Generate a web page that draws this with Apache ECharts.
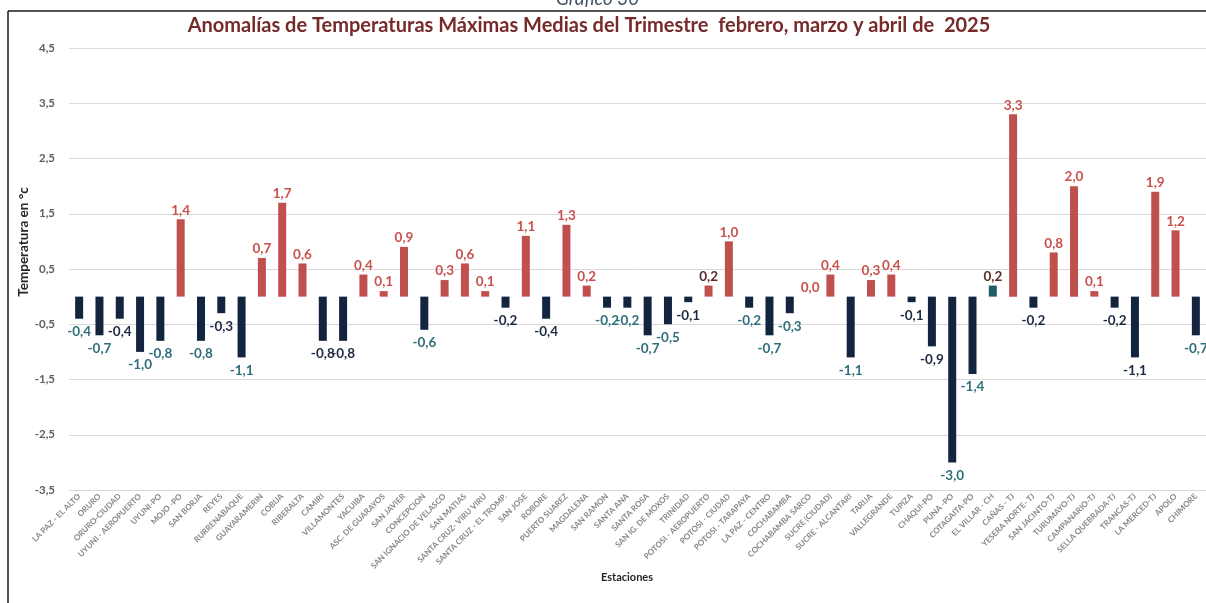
<!DOCTYPE html>
<html>
<head>
<meta charset="utf-8">
<title>Anomalías de Temperaturas Máximas Medias</title>
<script src="https://cdn.jsdelivr.net/npm/echarts@6/dist/echarts.min.js"></script>
<style>
  html, body { margin: 0; padding: 0; background: #ffffff; }
  #chart { width: 1206px; height: 603px; }
</style>
</head>
<body>
<div id="chart"></div>
<script>
// Estaciones meteorológicas
const stations = [
  'LA PAZ - EL ALTO', 'ORURO', 'ORURO-CIUDAD', 'UYUNI - AEROPUERTO', 'UYUNI-PO',
  'MOJO -PO', 'SAN BORJA', 'REYES', 'RURRENABAQUE', 'GUAYARAMERIN',
  'COBIJA', 'RIBERALTA', 'CAMIRI', 'VILLAMONTES', 'YACUIBA',
  'ASC. DE GUARAYOS', 'SAN JAVIER', 'CONCEPCION', 'SAN IGNACIO DE VELASCO', 'SAN MATIAS',
  'SANTA CRUZ- VIRU VIRU', 'SANTA CRUZ - EL TROMP.', 'SAN JOSE', 'ROBORE', 'PUERTO SUAREZ',
  'MAGDALENA', 'SAN RAMON', 'SANTA ANA', 'SANTA ROSA', 'SAN IG. DE MOXOS',
  'TRINIDAD', 'POTOSI - AEROPUERTO', 'POTOSI - CIUDAD', 'POTOSI - TARAPAYA', 'LA PAZ - CENTRO',
  'COCHABAMBA', 'COCHABAMBA SARCO', 'SUCRE (CIUDAD)', 'SUCRE - ALCANTARI', 'TARIJA',
  'VALLEGRANDE', 'TUPIZA', 'CHAQUI-PO', 'PUNA -PO', 'COTAGAITA-PO',
  'EL VILLAR - CH', 'CAÑAS - TJ', 'YESERA NORTE- TJ', 'SAN JACINTO-TJ', 'TURUMAYO-TJ',
  'CAMPANARIO-TJ', 'SELLA QUEBRADA-TJ', 'TRANCAS-TJ', 'LA MERCED-TJ', 'APOLO',
  'CHIMORE'
];

// Anomalía de temperatura máxima media (°C)
const anomalies = [
  -0.4, -0.7, -0.4, -1.0, -0.8,
   1.4, -0.8, -0.3, -1.1,  0.7,
   1.7,  0.6, -0.8, -0.8,  0.4,
   0.1,  0.9, -0.6,  0.3,  0.6,
   0.1, -0.2,  1.1, -0.4,  1.3,
   0.2, -0.2, -0.2, -0.7, -0.5,
  -0.1,  0.2,  1.0, -0.2, -0.7,
  -0.3,  0.0,  0.4, -1.1,  0.3,
   0.4, -0.1, -0.9, -3.0, -1.4,
   0.2,  3.3, -0.2,  0.8,  2.0,
   0.1, -0.2, -1.1,  1.9,  1.2,
  -0.7
];

// Marcas del eje de temperatura
const yMin = -3.5;
const yMax = 4.5;
const yStep = 1;

// Tono de la etiqueta de cada barra: r = rojo, t = verde azulado, d = azul oscuro, b = granate
const labelTone = [
  't','t','d','t','t', 'r','t','d','t','r',
  'r','r','d','d','r', 'r','r','t','r','r',
  'r','d','r','d','r', 'r','t','t','t','t',
  'd','b','r','t','t', 't','r','r','t','r',
  'r','d','d','t','t', 'b','r','d','r','r',
  'r','d','d','r','r', 't'
];

const toneColor = { r: '#c8504d', t: '#2f6f7c', d: '#1c2b45', b: '#5b2b2b' };
const POS_BAR = '#c0504d';
const NEG_BAR = '#13243f';
const SPECIAL_BAR = '#1f5d69';

const fmt = v => v.toFixed(1).replace('.', ',');

const barData = anomalies.map((v, i) => {
  const special = stations[i] === 'EL VILLAR - CH';
  return {
    value: v,
    itemStyle: { color: special ? SPECIAL_BAR : (v >= 0 ? POS_BAR : NEG_BAR) },
    label: {
      position: v >= 0 ? 'top' : 'bottom',
      distance: v >= 0 ? 2 : 6,
      color: toneColor[labelTone[i]]
    }
  };
});

const chart = echarts.init(document.getElementById('chart'), null, { renderer: 'canvas' });

chart.setOption({
  backgroundColor: '#ffffff',
  animation: false,
  grid: { left: 69, top: 48, width: 1140, height: 442, containLabel: false },
  xAxis: {
    type: 'category',
    data: stations,
    axisLine: { show: false, onZero: false },
    axisTick: { show: false },
    axisLabel: {
      interval: 0,
      rotate: 45,
      margin: 5,
      fontFamily: 'Lato, "Open Sans", sans-serif',
      fontSize: 8,
      fontWeight: 'bold',
      color: '#888888'
    },
    splitLine: { show: false }
  },
  yAxis: {
    type: 'value',
    min: yMin,
    max: yMax,
    interval: yStep,
    axisLine: { show: false },
    axisTick: { show: false },
    axisLabel: {
      margin: 14,
      fontFamily: 'Lato, "Open Sans", sans-serif',
      fontSize: 11.5,
      fontWeight: 'bold',
      color: '#606060',
      formatter: v => fmt(v)
    },
    splitLine: { lineStyle: { color: '#d9d9d9', width: 1 } }
  },
  series: [{
    type: 'bar',
    data: barData,
    barWidth: 8,
    label: {
      show: true,
      fontFamily: 'Lato, "Open Sans", sans-serif',
      fontSize: 13.5,
      fontWeight: 'bold',
      formatter: p => fmt(p.value)
    }
  }],
  graphic: [
    {
      type: 'text', left: 556, top: -11,
      style: { text: 'Gráfico 30', font: 'italic 19px Lato, "Open Sans", sans-serif', fill: '#44546a' }
    },
    {
      type: 'line', shape: { x1: 8, y1: 11, x2: 1206, y2: 11 },
      style: { stroke: '#1a1a1a', lineWidth: 1.5 }
    },
    {
      type: 'line', shape: { x1: 8, y1: 11, x2: 8, y2: 603 },
      style: { stroke: '#1a1a1a', lineWidth: 1.5 }
    },
    {
      type: 'text', x: 589, y: 26,
      style: {
        text: 'Anomalías de Temperaturas Máximas Medias del Trimestre  febrero, marzo y abril de  2025',
        font: 'bold 20px Lato, "Open Sans", sans-serif',
        fill: '#762a2a', textAlign: 'center', textVerticalAlign: 'middle'
      }
    },
    {
      type: 'text', x: 24, y: 242, rotation: Math.PI / 2,
      style: {
        text: 'Temperatura en °c',
        font: 'bold 13.5px Lato, "Open Sans", sans-serif',
        fill: '#262626', textAlign: 'center', textVerticalAlign: 'middle'
      }
    },
    {
      type: 'text', x: 627, y: 577,
      style: {
        text: 'Estaciones',
        font: 'bold 11px Lato, "Open Sans", sans-serif',
        fill: '#262626', textAlign: 'center', textVerticalAlign: 'middle'
      }
    }
  ]
});
</script>
</body>
</html>
